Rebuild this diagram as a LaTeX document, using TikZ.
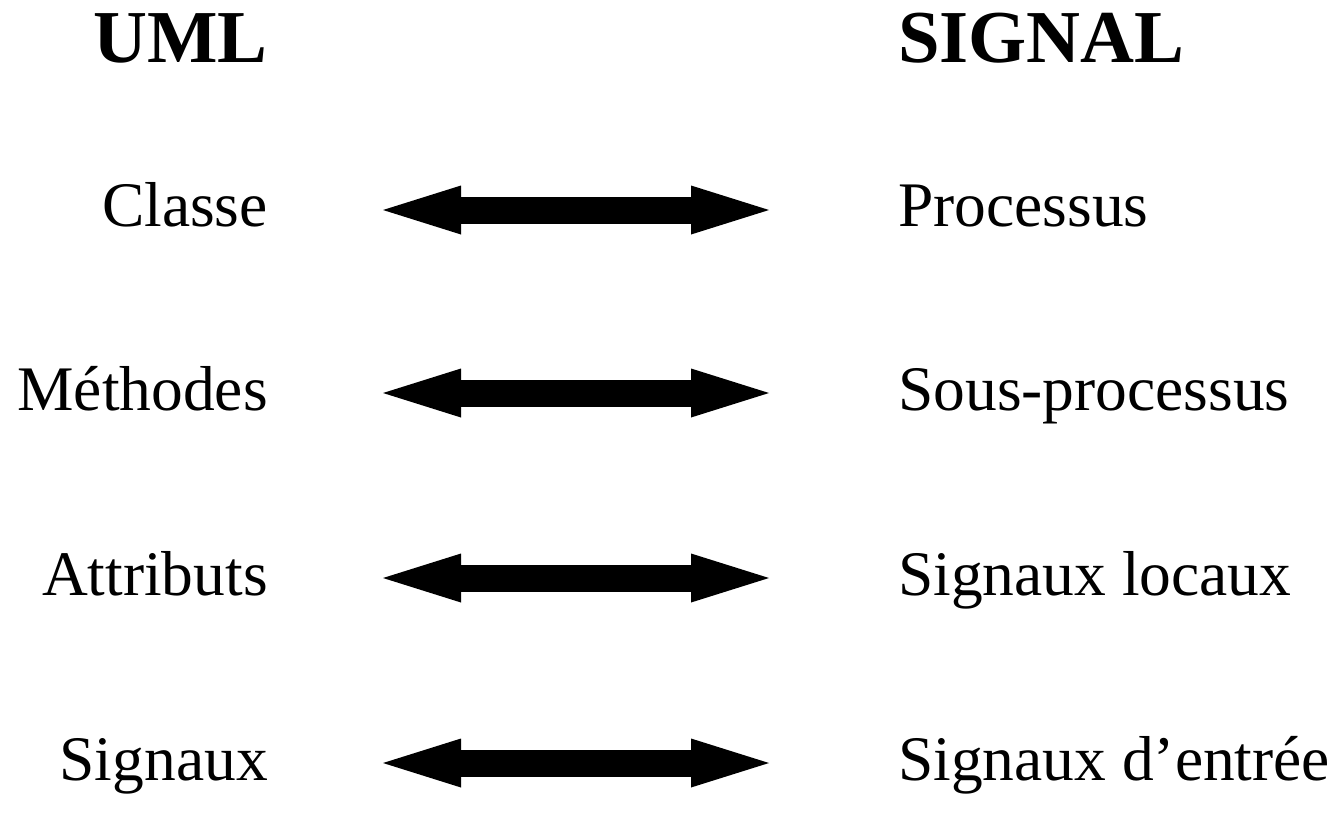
\documentclass[tikz,border=0pt]{standalone}
\usepackage{fontspec}
\setmainfont{Liberation Serif}
\usetikzlibrary{arrows.meta}
\begin{document}
\begin{tikzpicture}[x=0.75pt,y=-0.75pt,
  heading/.style={inner sep=0pt,font=\fontsize{56}{67}\selectfont\bfseries},
  term/.style={inner sep=0pt,font=\fontsize{47.6}{57}\selectfont},
  lterm/.style={term,anchor=base east},
  rterm/.style={term,anchor=base west},
  corresp/.style={line width=20.25pt,line cap=butt,
    {Triangle[length=58.5pt,width=36.75pt,line width=0pt]}-{Triangle[length=58.5pt,width=36.75pt,line width=0pt]}}]
\useasboundingbox (0,0) rectangle (1341,814);
% column headings
\node[heading,anchor=base east] (uml) at (268,62) {UML};
\node[heading,anchor=base west] (signal) at (898,62) {SIGNAL};
% UML concepts
\node[lterm] (classe)    at (268,226) {Classe};
\node[lterm] (methodes)  at (268,410) {Méthodes};
\node[lterm] (attributs) at (268,595) {Attributs};
\node[lterm] (signaux)   at (268,780) {Signaux};
% SIGNAL counterparts
\node[rterm] (processus) at (898,226) {Processus};
\node[rterm] (sousproc)  at (898,410) {Sous-processus};
\node[rterm] (siglocaux) at (898,595) {Signaux locaux};
\node[rterm] (sigentree) at (898,780) {Signaux d’entrée};
% arrow end points
\foreach \i/\y in {1/210,2/393,3/578,4/763}{
  \coordinate (l\i) at (383,\y);
  \coordinate (r\i) at (769,\y);
}
\foreach \i in {1,...,4}{
  \draw[corresp] (l\i) -- (r\i);
}
\end{tikzpicture}
\end{document}
